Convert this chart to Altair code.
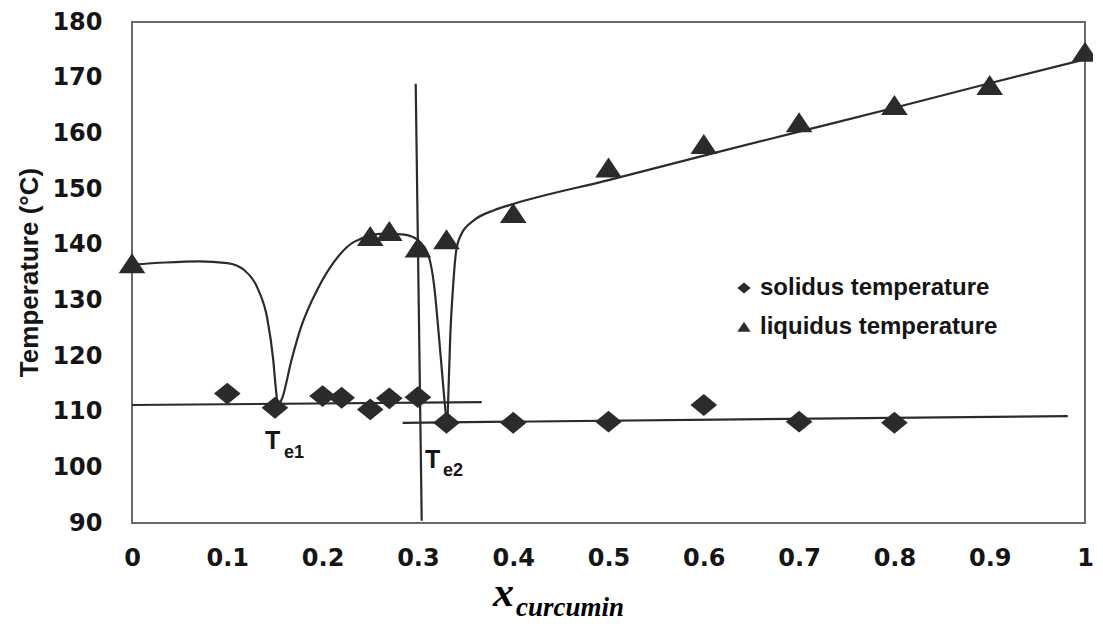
import altair as alt
import pandas as pd

# ---- measured points ----
sol_x = [0.1, 0.15, 0.2, 0.22, 0.25, 0.27, 0.3, 0.33, 0.4, 0.5, 0.6, 0.7, 0.8]
sol_t = [113.25, 110.7, 112.8, 112.5, 110.4, 112.4, 112.6, 108.0, 108.0, 108.2, 111.2, 108.2, 108.0]

liq_x = [0, 0.25, 0.27, 0.3, 0.33, 0.4, 0.5, 0.6, 0.7, 0.8, 0.9, 1.0]
liq_t = [136.6, 141.5, 142.4, 139.4, 140.9, 145.6, 153.8, 158.0, 161.9, 165.0, 168.6, 174.6]

# ---- fitted liquidus curves ----
curve_a_x = [0, 0.035, 0.07, 0.1, 0.118, 0.132, 0.142, 0.148, 0.151, 0.153]
curve_a_t = [136.4, 136.8, 137.0, 136.7, 135.4, 132.1, 126.7, 119.6, 114.0, 110.8]

curve_b_x = [0.153, 0.158, 0.167, 0.177, 0.195, 0.212, 0.233, 0.265, 0.286, 0.3, 0.311, 0.317, 0.322, 0.328, 0.330]
curve_b_t = [110.8, 112.6, 119.0, 125.0, 132.1, 136.9, 140.5, 142.0, 141.8, 140.8, 138.1, 132.7, 123.7, 111.8, 108.2]

curve_c_x = [0.331, 0.334, 0.337, 0.340, 0.345, 0.359, 0.38, 0.4, 0.5, 0.6, 0.7, 0.8, 0.9, 1.0]
curve_c_t = [108.2, 123.8, 132.7, 138.7, 141.7, 144.4, 146.2, 147.3, 151.6, 156.0, 160.3, 164.6, 169.0, 173.3]

# ---- straight construction lines (eutectic lines + vertical) ----
seg_names = ["eut1", "eut1", "eut2", "eut2", "vert", "vert"]
seg_x = [0.0, 0.367, 0.284, 0.982, 0.2977, 0.304]
seg_t = [111.2, 111.7, 108.0, 109.2, 168.9, 90.4]

series_names = ["solidus temperature", "liquidus temperature"]
x_ticks = [0, 0.1, 0.2, 0.3, 0.4, 0.5, 0.6, 0.7, 0.8, 0.9, 1]
y_ticks = [90, 100, 110, 120, 130, 140, 150, 160, 170, 180]

# ---- tables ----
pts = pd.DataFrame({
    "x": sol_x + liq_x,
    "t": sol_t + liq_t,
    "series": [series_names[0]] * len(sol_x) + [series_names[1]] * len(liq_x),
})
curves = pd.DataFrame({
    "x": curve_a_x + curve_b_x + curve_c_x,
    "t": curve_a_t + curve_b_t + curve_c_t,
    "seg": ["A"] * len(curve_a_x) + ["B"] * len(curve_b_x) + ["C"] * len(curve_c_x),
})
segs = pd.DataFrame({"x": seg_x, "t": seg_t, "seg": seg_names})

te_main = pd.DataFrame({"x": [0.1396, 0.3075], "t": [103.3, 99.86], "label": ["T", "T"]})
te_sub = pd.DataFrame({"x": [0.1595, 0.3263], "t": [101.65, 98.43], "label": ["e1", "e2"]})

INK = "#2b2b2b"
DIAMOND = "M-1,0L0,-0.82L1,0L0,0.82Z"
TRIANGLE = "M0,-0.78L1,0.72L-1,0.72Z"

xs = alt.Scale(domain=[0, 1], nice=False, zero=False)
ys = alt.Scale(domain=[90, 180], nice=False, zero=False)

X = alt.X("x:Q", scale=xs, title=None,
          axis=alt.Axis(values=x_ticks, labelFlush=False,
                        labelExpr="datum.value == 0 ? '0' : datum.value == 1 ? '1' : format(datum.value, '.1f')"))
Y = alt.Y("t:Q", scale=ys,
          axis=alt.Axis(values=y_ticks, labelFlush=False, title="Temperature (\u00b0C)"))

line_layer = alt.Chart(segs).mark_line(color=INK, strokeWidth=2.2).encode(
    x=X, y=Y, detail="seg:N", order="t:Q"
)
curve_layer = alt.Chart(curves).mark_line(color=INK, strokeWidth=2.2, interpolate="monotone").encode(
    x=X, y=Y, detail="seg:N"
)
point_layer = alt.Chart(pts).mark_point(filled=True, size=710, opacity=1, color=INK).encode(
    x=X, y=Y,
    shape=alt.Shape("series:N",
                    scale=alt.Scale(domain=series_names, range=[DIAMOND, TRIANGLE]),
                    legend=alt.Legend(title=None, orient="none", legendX=600, legendY=254,
                                      symbolSize=180, symbolFillColor=INK, symbolStrokeColor=INK,
                                      labelFont="Liberation Sans", labelFontWeight="bold",
                                      labelFontSize=24, labelColor="#151515", labelOffset=4,
                                      labelLimit=400, rowPadding=15, padding=0)),
)

te_layer = alt.Chart(te_main).mark_text(font="Liberation Sans", fontWeight="bold", fontSize=25,
                                         align="left", baseline="alphabetic", color="#151515").encode(
    x=alt.X("x:Q", scale=xs), y=alt.Y("t:Q", scale=ys), text="label:N")
te_sub_layer = alt.Chart(te_sub).mark_text(font="Liberation Sans", fontWeight="bold", fontSize=18,
                                            align="left", baseline="alphabetic", color="#151515").encode(
    x=alt.X("x:Q", scale=xs), y=alt.Y("t:Q", scale=ys), text="label:N")

xt_main = alt.Chart(pd.DataFrame({"label": ["x"]})).mark_text(
    font="Liberation Serif", fontStyle="italic", fontWeight="bold", fontSize=42,
    align="left", baseline="alphabetic", color="#000000").encode(
    x=alt.value(361), y=alt.value(584), text="label:N")
xt_sub = alt.Chart(pd.DataFrame({"label": ["curcumin"]})).mark_text(
    font="Liberation Serif", fontStyle="italic", fontWeight="bold", fontSize=27,
    align="left", baseline="alphabetic", color="#000000").encode(
    x=alt.value(384), y=alt.value(594), text="label:N")

chart = alt.layer(line_layer, curve_layer, point_layer, te_layer, te_sub_layer, xt_main, xt_sub).properties(
    width=953, height=501,
    padding={"left": 124, "top": 14, "right": 8, "bottom": 98},
    autosize=alt.AutoSizeParams(type="none"),
).configure_view(
    stroke="#6a6a6a", strokeWidth=2
).configure_axis(
    grid=False, domain=False, ticks=False, tickSize=0,
    labelFont="DejaVu Sans", labelFontWeight="bold", labelFontSize=24, labelColor="#151515",
    titleFont="Liberation Sans", titleFontWeight="bold", titleFontSize=26, titleColor="#151515",
).configure_axisX(
    labelPadding=23
).configure_axisY(
    labelPadding=30, titleAngle=270, titleX=-95, titleY=250, titleAlign="center", titleBaseline="alphabetic"
)

chart.save("out.html", embed_options={"renderer": "svg", "actions": False})
